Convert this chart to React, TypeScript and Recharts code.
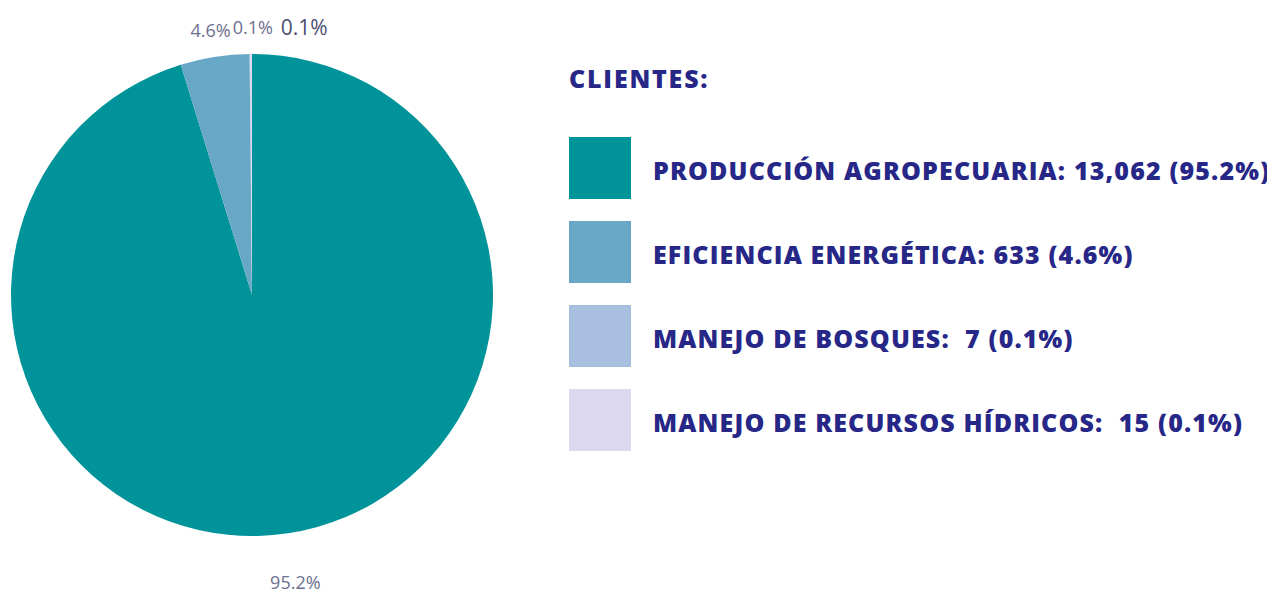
import { PieChart, Pie, Cell, Legend } from 'recharts';

const categorias = ['PRODUCCIÓN AGROPECUARIA', 'EFICIENCIA ENERGÉTICA', 'MANEJO DE BOSQUES', 'MANEJO DE RECURSOS HÍDRICOS'];
const clientes = [13062, 633, 7, 15];
const porcentajes = ['95.2%', '4.6%', '0.1%', '0.1%'];
const etiquetasLeyenda = [
  'PRODUCCIÓN AGROPECUARIA: 13,062 (95.2%)',
  'EFICIENCIA ENERGÉTICA: 633 (4.6%)',
  'MANEJO DE BOSQUES:  7 (0.1%)',
  'MANEJO DE RECURSOS HÍDRICOS:  15 (0.1%)',
];
const colores = ['#00939a', '#68a8c6', '#a9bfdf', '#dcd8ef'];

const data = categorias.map((nombre, i) => ({ nombre, valor: clientes[i] }));

const RADIAN = Math.PI / 180;
const NAVY = '#262787';
const FONT = '"Open Sans", "DejaVu Sans", sans-serif';

function renderEtiqueta(props: any) {
  const { cx, cy, midAngle, outerRadius, index } = props;
  const sin = Math.sin(-midAngle * RADIAN);
  const cos = Math.cos(-midAngle * RADIAN);
  // las de abajo van más separadas
  const r = outerRadius + (sin > 0 ? 49 : 27);
  let x = cx + r * cos;
  const y = cy + r * sin;
  // evitar que se encimen las dos rebanadas pequeñas
  if (index === 2) x += 3;
  if (index === 3) x += 53;
  return (
    <text
      x={x}
      y={y}
      textAnchor="middle"
      dominantBaseline="central"
      fontFamily={FONT}
      fontSize={index === 3 ? 21 : 18}
      fill={index === 3 ? '#4c4e70' : '#6e6f8f'}
    >
      {porcentajes[index]}
    </text>
  );
}

function Leyenda() {
  return (
    <div style={{ fontFamily: FONT, color: NAVY, fontWeight: 800, letterSpacing: 1.15 }}>
      <div style={{ fontSize: 25, height: 36, lineHeight: '36px', marginBottom: 41, letterSpacing: 1.8 }}>CLIENTES:</div>
      {etiquetasLeyenda.map((t, i) => (
        <div key={t} style={{ display: 'flex', alignItems: 'center', height: 62, marginBottom: 22 }}>
          <div style={{ width: 62, height: 62, background: colores[i], flexShrink: 0 }} />
          <div style={{ marginLeft: 22, marginTop: 4, fontSize: 25, whiteSpace: 'pre' }}>{t}</div>
        </div>
      ))}
    </div>
  );
}

export default function App() {
  return (
    <PieChart width={1259} height={587} margin={{ top: 0, right: 0, bottom: 0, left: 0 }}>
      <Pie
        data={data}
        dataKey="valor"
        nameKey="nombre"
        cx={244}
        cy={287}
        outerRadius={241}
        startAngle={90}
        endAngle={-270}
        stroke="none"
        label={renderEtiqueta}
        labelLine={false}
        isAnimationActive={false}
      >
        {data.map((d, i) => (
          <Cell key={d.nombre} fill={colores[i]} />
        ))}
      </Pie>
      <Legend
        content={<Leyenda />}
        wrapperStyle={{ position: 'absolute', left: 561, top: 52, width: 698 }}
      />
    </PieChart>
  );
}
